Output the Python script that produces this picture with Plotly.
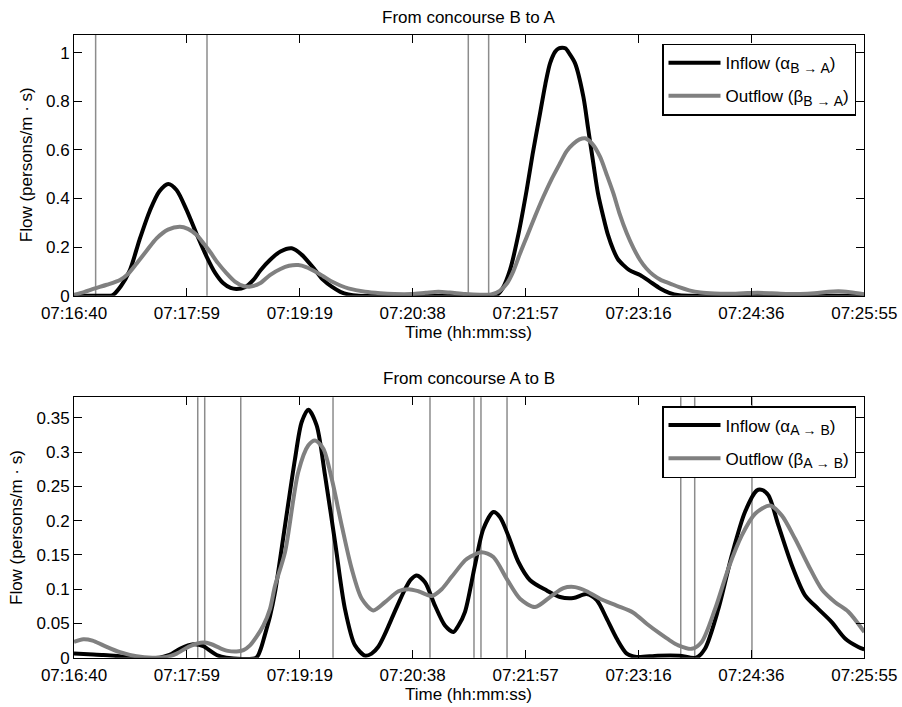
import plotly.graph_objects as go

# ---------------- data (time in seconds after 07:16:40) ----------------
tick_labels = ["07:16:40", "07:17:59", "07:19:19", "07:20:38", "07:21:57", "07:23:16", "07:24:36", "07:25:55"]
tick_seconds = [0, 79.29, 158.57, 237.86, 317.14, 396.43, 475.71, 555]

# Top panel: from concourse B to A
t_ba_in = [0, 20, 27, 33, 39.3, 46, 53.4, 60, 66.2, 72, 79.1, 86, 93.2, 99, 104.9, 110, 114.2, 120, 126, 131,
           137.6, 145, 152.9, 160, 169.3, 175, 181, 187, 192.7, 200, 280, 293, 297, 301, 306.2, 312, 317.9, 322,
           327.3, 331, 334.3, 338, 340.5, 345, 348, 351.9, 357.7, 361, 364.7, 368, 371.7, 375, 378.8, 382, 385.8,
           390, 397.5, 404, 411.6, 418, 425, 440, 555]
v_ba_in = [0, 0, 0.002, 0.04, 0.106, 0.23, 0.352, 0.43, 0.46, 0.435, 0.352, 0.255, 0.16, 0.095, 0.051, 0.032,
           0.028, 0.035, 0.065, 0.105, 0.147, 0.182, 0.195, 0.168, 0.106, 0.065, 0.037, 0.016, 0.005, 0.0, 0, 0.0,
           0.003, 0.03, 0.106, 0.25, 0.435, 0.58, 0.75, 0.87, 0.956, 1.005, 1.018, 1.018, 0.995, 0.956, 0.819,
           0.69, 0.545, 0.42, 0.325, 0.25, 0.188, 0.15, 0.126, 0.105, 0.085, 0.06, 0.03, 0.012, 0.002, 0, 0]

t_ba_out = [0, 7, 14.7, 23, 32.3, 38, 44, 51, 58, 66, 74.4, 80, 86.2, 91, 95.5, 101, 107.2, 113, 118.9, 124,
            130.6, 137.6, 145, 151, 157.5, 163, 169.3, 175, 181, 187, 192.6, 204.4, 215, 225, 237, 247, 255.8,
            264, 274.6, 285, 293, 299, 304, 308.5, 313, 318, 324, 329.6, 335, 341.3, 346, 350.7, 355, 358.9, 364,
            369.4, 374, 378.8, 383, 388.2, 393, 397.5, 402, 406.8, 412, 418.6, 425, 432, 440, 450, 460, 470, 480,
            490, 500, 510, 520, 530, 537, 545, 555]
v_ba_out = [0.004, 0.015, 0.03, 0.045, 0.065, 0.09, 0.133, 0.185, 0.236, 0.272, 0.284, 0.275, 0.25, 0.215, 0.181,
            0.135, 0.092, 0.058, 0.04, 0.038, 0.051, 0.085, 0.11, 0.123, 0.126, 0.118, 0.10, 0.08, 0.058, 0.042,
            0.03, 0.016, 0.01, 0.007, 0.007, 0.012, 0.016, 0.013, 0.007, 0.004, 0.005, 0.02, 0.05, 0.1, 0.17,
            0.243, 0.33, 0.407, 0.475, 0.545, 0.595, 0.625, 0.643, 0.648, 0.625, 0.572, 0.5, 0.421, 0.34, 0.257,
            0.195, 0.147, 0.112, 0.085, 0.065, 0.05, 0.035, 0.022, 0.013, 0.009, 0.008, 0.01, 0.012, 0.01, 0.007,
            0.007, 0.01, 0.016, 0.018, 0.014, 0.006]

events_ba = [15.2, 93.4, 276.9, 291.2]

# Bottom panel: from concourse A to B
t_ab_in = [0, 10, 20.6, 32, 44, 60, 67, 74.4, 83.8, 90.8, 95, 100.2, 107, 128, 131, 134, 137.6, 141.2, 148.2,
           155.2, 159.9, 164.6, 170.4, 176.3, 183.3, 190.3, 197.3, 204.4, 209, 213.7, 218, 223.1, 228, 232.5,
           236.5, 240.7, 246.5, 253.5, 260.5, 266.4, 270, 274.6, 281.6, 287.5, 294.5, 299.2, 305, 312, 320.3, 332,
           341.3, 350.7, 360, 367.1, 374.1, 381.1, 388.2, 395, 410, 425, 437, 443.1, 452.5, 461.9, 471.2, 479.5,
           483, 487.7, 494.7, 504.1, 513.4, 522.8, 532.1, 541.5, 550.8, 555]
v_ab_in = [0.006, 0.005, 0.004, 0.002, 0.0, 0.0, 0.004, 0.013, 0.0195, 0.017, 0.011, 0.004, 0.0, 0.0, 0.012,
           0.033, 0.06, 0.096, 0.193, 0.29, 0.344, 0.362, 0.339, 0.266, 0.169, 0.071, 0.018, 0.003, 0.006, 0.016,
           0.033, 0.057, 0.08, 0.1, 0.114, 0.12, 0.11, 0.076, 0.047, 0.0375, 0.047, 0.067, 0.135, 0.188, 0.2125,
           0.205, 0.178, 0.14, 0.113, 0.098, 0.0885, 0.087, 0.093, 0.084, 0.057, 0.028, 0.006, 0.001, 0.003,
           0.003, 0.0, 0.013, 0.071, 0.149, 0.2125, 0.244, 0.245, 0.237, 0.193, 0.135, 0.091, 0.071, 0.052, 0.028,
           0.0156, 0.012]

t_ab_out = [0, 6.5, 13, 20.6, 32.3, 44, 55, 65, 72.1, 81.5, 90.8, 96, 102.5, 108, 114.2, 119, 123.6, 128, 133,
            137.6, 141.2, 148.2, 157.5, 164.6, 169.3, 175.1, 181, 188, 195, 202.1, 210.2, 218.4, 227.8, 234.8,
            241.8, 251.2, 258.2, 265.2, 274.6, 278, 286.3, 294.5, 303.9, 313.2, 323.8, 334.3, 343.7, 351.9, 360,
            369.4, 381.1, 392.8, 402.2, 411.6, 418.6, 424.4, 433.8, 440.8, 450.2, 459.5, 468.9, 478.3, 488.8, 497,
            506.4, 515.7, 525.1, 534.5, 543.8, 555]
v_ab_out = [0.023, 0.027, 0.025, 0.018, 0.008, 0.002, 0.0, 0.001, 0.006, 0.017, 0.022, 0.02, 0.014, 0.01, 0.009,
            0.011, 0.018, 0.03, 0.047, 0.071, 0.105, 0.154, 0.271, 0.31, 0.317, 0.305, 0.261, 0.193, 0.13, 0.086,
            0.069, 0.081, 0.097, 0.1, 0.097, 0.09, 0.1, 0.118, 0.142, 0.147, 0.154, 0.147, 0.115, 0.086, 0.074,
            0.0885, 0.1015, 0.103, 0.097, 0.086, 0.076, 0.0657, 0.0496, 0.035, 0.025, 0.018, 0.013, 0.023, 0.071,
            0.13, 0.178, 0.21, 0.222, 0.2077, 0.1735, 0.135, 0.1, 0.081, 0.067, 0.0375]

events_ab = [86.9, 91.8, 117.1, 181.9, 250.0, 280.9, 285.8, 304.1, 426.1, 435.9, 476.1]

# ---------------- figure ----------------
# The page's default body margin is removed (post_script below), so the figure fills the window.
W, H = 902, 707


def xp(px):
    return px / W


def yp(py):
    return 1 - py / H


FONT = "Liberation Sans, Arial, Helvetica, sans-serif"
BLACK = "#000000"
GRAY = "#808080"
EVENT = "#8c8c8c"

SUB = '<sub><span style="font-size:14px">{}</span></sub>'

fig = go.Figure()
line_kw = dict(mode="lines", line_shape="spline")
fig.add_trace(go.Scatter(x=t_ba_in, y=v_ba_in, name="Inflow (α" + SUB.format("B → A") + ")", xaxis="x", yaxis="y",
                         line=dict(color=BLACK, width=4, smoothing=0.8), legend="legend", legendgroup="a", **line_kw))
fig.add_trace(go.Scatter(x=t_ba_out, y=v_ba_out, name="Outflow (β" + SUB.format("B → A") + ")", xaxis="x", yaxis="y",
                         line=dict(color=GRAY, width=4, smoothing=0.8), legend="legend", legendgroup="b", **line_kw))
fig.add_trace(go.Scatter(x=t_ab_in, y=v_ab_in, name="Inflow (α" + SUB.format("A → B") + ")", xaxis="x2", yaxis="y2",
                         line=dict(color=BLACK, width=4, smoothing=0.8), legend="legend2", legendgroup="c", **line_kw))
fig.add_trace(go.Scatter(x=t_ab_out, y=v_ab_out, name="Outflow (β" + SUB.format("A → B") + ")", xaxis="x2", yaxis="y2",
                         line=dict(color=GRAY, width=4, smoothing=0.8), legend="legend2", legendgroup="d", **line_kw))

shapes = []
for t in events_ba:
    shapes.append(dict(type="line", xref="x", yref="y domain", x0=t, x1=t, y0=0, y1=1,
                       line=dict(color=EVENT, width=1.5), layer="below"))
for t in events_ab:
    shapes.append(dict(type="line", xref="x2", yref="y2 domain", x0=t, x1=t, y0=0, y1=1,
                       line=dict(color=EVENT, width=1.5), layer="below"))

xaxis_common = dict(range=[0, 555], tickvals=tick_seconds, ticktext=tick_labels, ticks="inside", ticklen=8,
                    tickcolor=BLACK, showline=True, linecolor=BLACK, linewidth=1, mirror="ticks",
                    showgrid=False, zeroline=False, automargin=False, ticklabelstandoff=2,
                    tickfont=dict(size=17, color=BLACK))
yaxis_common = dict(ticks="inside", ticklen=8, tickcolor=BLACK, showline=True, linecolor=BLACK, linewidth=1,
                    mirror="ticks", showgrid=False, zeroline=False, automargin=False,
                    tickfont=dict(size=17, color=BLACK))

legend_common = dict(bgcolor="white", bordercolor=BLACK, borderwidth=1.5, font=dict(size=17, color=BLACK),
                     xanchor="right", yanchor="top", itemwidth=52, tracegroupgap=8, traceorder="grouped")

fig.update_layout(
    template="none",
    width=W, height=H,
    margin=dict(l=0, r=0, t=0, b=0, autoexpand=False),
    paper_bgcolor="white", plot_bgcolor="white",
    font=dict(family=FONT, size=17, color=BLACK),
    showlegend=True,
    xaxis=dict(domain=[xp(74), xp(864.3)], anchor="y", **xaxis_common),
    yaxis=dict(domain=[yp(295.7), yp(34.7)], anchor="x", range=[0, 1.074], tickvals=[0, 0.2, 0.4, 0.6, 0.8, 1],
               ticktext=["0", "0.2", "0.4", "0.6", "0.8", "1"], **yaxis_common),
    xaxis2=dict(domain=[xp(74), xp(864.3)], anchor="y2", **xaxis_common),
    yaxis2=dict(domain=[yp(657.7), yp(397.3)], anchor="x2", range=[0, 0.38],
                tickvals=[0, 0.05, 0.1, 0.15, 0.2, 0.25, 0.3, 0.35],
                ticktext=["0", "0.05", "0.1", "0.15", "0.2", "0.25", "0.3", "0.35"], **yaxis_common),
    legend=dict(x=xp(856), y=yp(43.7), **legend_common),
    legend2=dict(x=xp(856), y=yp(406), **legend_common),
    shapes=shapes,
    annotations=[
        dict(text="From concourse B to A", x=xp(469), y=yp(17), xref="paper", yref="paper",
             showarrow=False, xanchor="center", yanchor="middle", font=dict(size=17)),
        dict(text="From concourse A to B", x=xp(469), y=yp(378), xref="paper", yref="paper",
             showarrow=False, xanchor="center", yanchor="middle", font=dict(size=17)),
        dict(text="Time (hh:mm:ss)", x=xp(469), y=yp(333), xref="paper", yref="paper",
             showarrow=False, xanchor="center", yanchor="middle", font=dict(size=17)),
        dict(text="Time (hh:mm:ss)", x=xp(469), y=yp(694), xref="paper", yref="paper",
             showarrow=False, xanchor="center", yanchor="middle", font=dict(size=17)),
        dict(text="Flow (persons/m · s)", x=xp(26), y=yp(165.2), xref="paper", yref="paper",
             showarrow=False, xanchor="center", yanchor="middle", textangle=-90, font=dict(size=17)),
        dict(text="Flow (persons/m · s)", x=xp(16.5), y=yp(527.5), xref="paper", yref="paper",
             showarrow=False, xanchor="center", yanchor="middle", textangle=-90, font=dict(size=17)),
    ],
)

fig.write_html("out.html", config={"displayModeBar": False},
               post_script="document.body.style.margin='0px';")
